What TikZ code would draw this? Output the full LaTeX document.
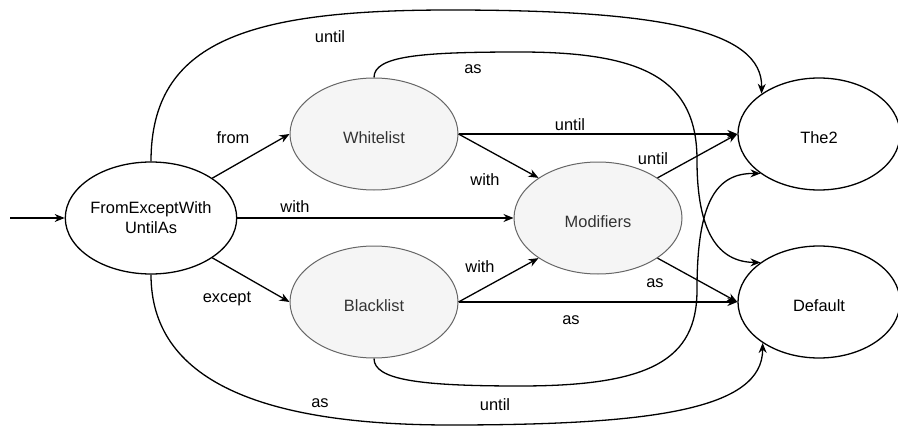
\documentclass[tikz,border=0pt]{standalone}
\usepackage{fontspec}
\setmainfont{Liberation Sans}
\usetikzlibrary{shapes.geometric,arrows.meta}
\definecolor{gfill}{HTML}{F5F5F5}
\definecolor{gline}{HTML}{666666}
\definecolor{gtext}{HTML}{333333}
\begin{document}
\begin{tikzpicture}[x=1pt,y=-1pt,font=\fontsize{16.4}{20}\selectfont,
  state/.style={ellipse,draw=black,line width=1.3pt,minimum width=168pt,minimum height=112pt,inner sep=0pt,align=center},
  lowtext/.style={text height=19pt,text depth=0pt},
  gstate/.style={state,lowtext,draw=gline,fill=gfill,text=gtext,line width=1pt},
  edge/.style={line width=1.3pt,-{Stealth[length=10pt,width=8pt]}},
  lbl/.style={inner sep=0pt}]
\useasboundingbox (0,0) rectangle (898,428);
\node[state] (fewua) at (151,218) {FromExceptWith\\UntilAs};
\node[gstate] (white) at (374,134) {Whitelist};
\node[gstate] (black) at (374,302) {Blacklist};
\node[gstate] (mod) at (598,218) {Modifiers};
\node[state,lowtext,minimum width=162pt] (the2) at (819,134) {The2};
\node[state,lowtext,minimum width=162pt] (def) at (819,302) {Default};
\coordinate (in) at (10,218);
% straight edges
\draw[edge] (in) -- (fewua.west);
\draw[edge] (fewua.33) -- (white.west);
\draw[edge] (fewua.east) -- (mod.west);
\draw[edge] (fewua.-33) -- (black.west);
\draw[edge] (white.east) -- (the2.west);
\draw[edge] (white.east) -- (mod.146);
\draw[edge] (black.east) -- (mod.-146);
\draw[edge] (black.east) -- (def.west);
\draw[edge] (mod.34) -- (the2.west);
\draw[edge] (mod.-34) -- (def.west);
% curved edges
\draw[edge] (fewua.north) .. controls (151,40) and (250,10) .. (450,10)
   .. controls (660,10) and (763,30) .. (the2.145);
\draw[edge] (fewua.south) .. controls (151,380) and (260,425) .. (450,425)
   .. controls (650,425) and (763,410) .. (def.-144);
\draw[edge] (white.north) .. controls (374,56) and (420,52) .. (520,52)
   .. controls (645,52) and (697,80) .. (697,160)
   .. controls (697,232) and (718,262) .. (def.146);
\draw[edge] (black.south) .. controls (374,380) and (420,386) .. (520,386)
   .. controls (650,386) and (697,360) .. (697,290)
   .. controls (697,202) and (716,173) .. (the2.-146);
% labels
\node[lbl] (l1) at (330,37) {until};
\node[lbl] (l2) at (473,69) {as};
\node[lbl] (l3) at (233,138) {from};
\node[lbl] (l4) at (295,207) {with};
\node[lbl] (l5) at (227,299) {except};
\node[lbl] (l6) at (570,125) {until};
\node[lbl] (l7) at (485,180) {with};
\node[lbl] (l8) at (653,159) {until};
\node[lbl] (l9) at (480,267) {with};
\node[lbl] (l10) at (655,283) {as};
\node[lbl] (l11) at (571,320) {as};
\node[lbl] (l12) at (320,403) {as};
\node[lbl] (l13) at (495,405) {until};
\end{tikzpicture}
\end{document}
